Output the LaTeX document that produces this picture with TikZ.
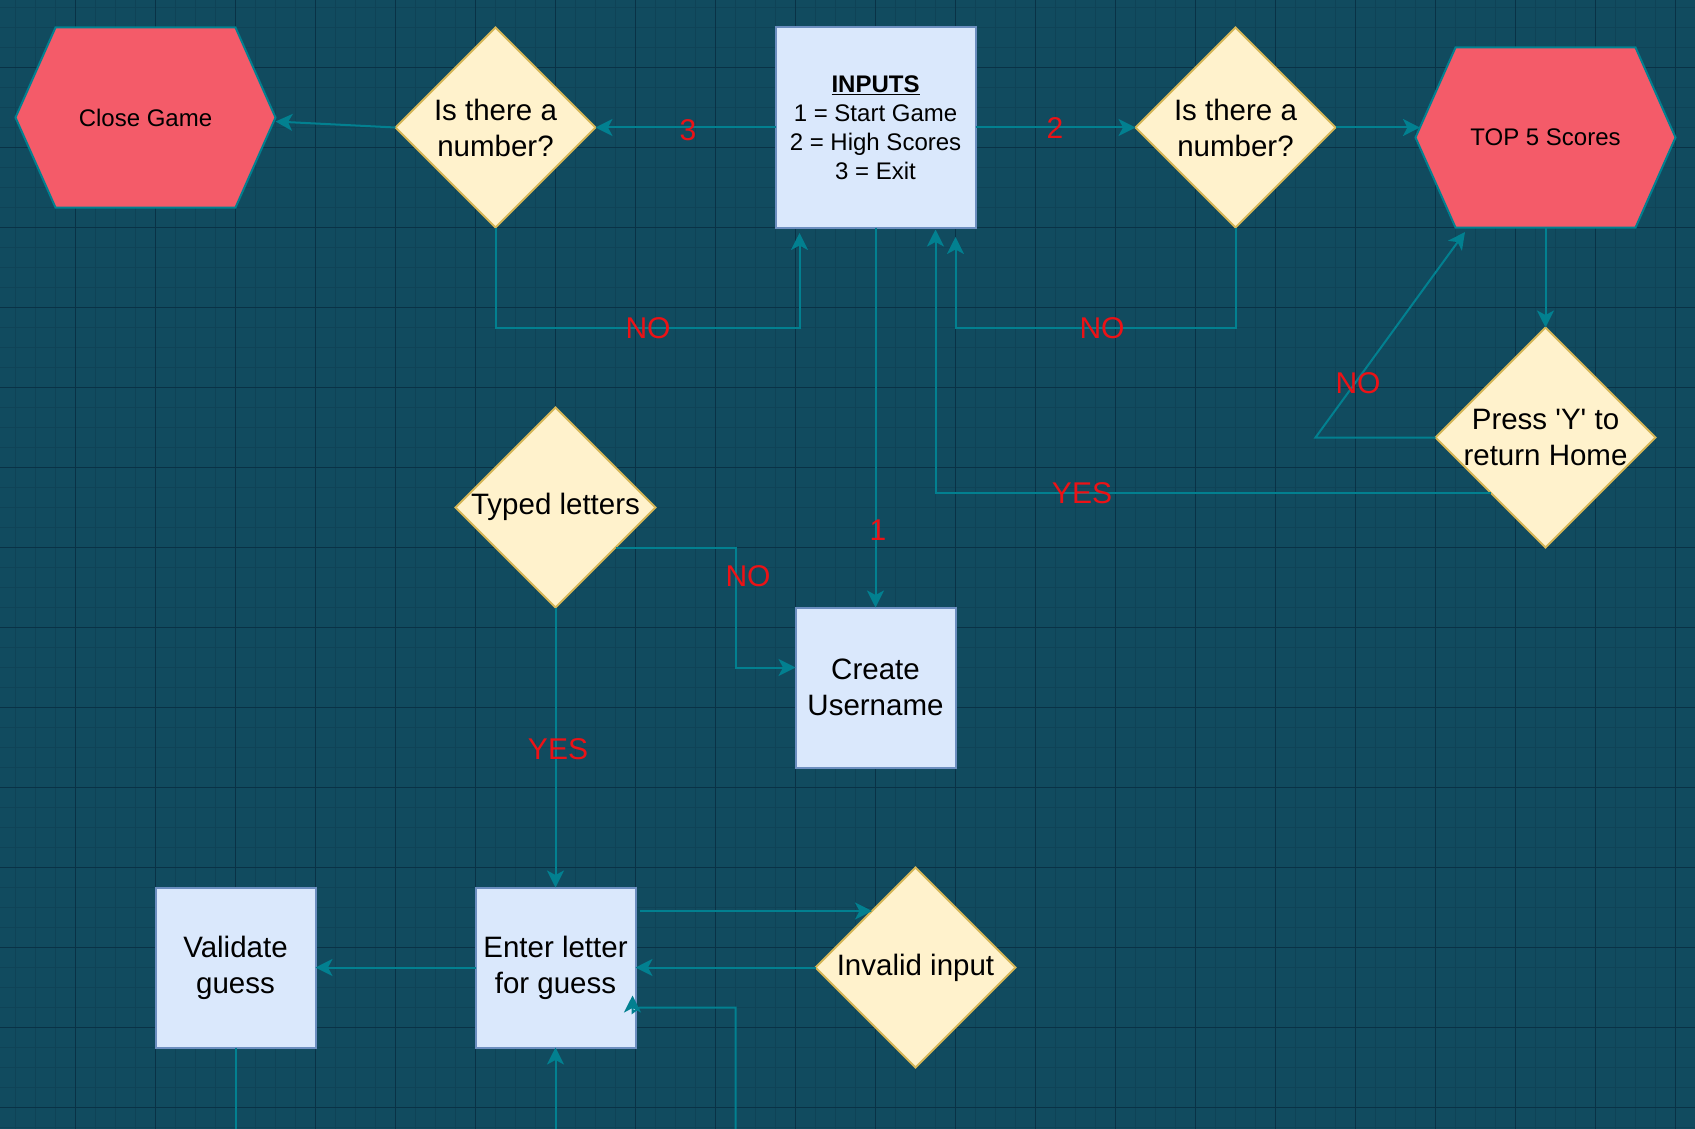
\documentclass[tikz,border=0pt]{standalone}
\usepackage{fontspec}
\setmainfont{Liberation Sans}
\newfontfamily\qfont{Liberation Sans}
\usetikzlibrary{shapes.geometric,arrows.meta,calc}
\definecolor{bgc}{HTML}{114B5F}
\definecolor{gridmin}{RGB}{15,67,87}
\definecolor{gridmaj}{RGB}{9,50,70}
\definecolor{edgec}{HTML}{028090}
\definecolor{hexfill}{HTML}{F45B69}
\definecolor{dfill}{HTML}{FFF2CC}
\definecolor{dline}{HTML}{D6B656}
\definecolor{rfill}{HTML}{DAE8FC}
\definecolor{rline}{HTML}{6C8EBF}
\definecolor{lblc}{RGB}{236,18,22}
\pgfdeclarelayer{back}
\pgfdeclarelayer{shapes}
\pgfsetlayers{back,shapes,main}
\newcommand\myul[1]{\setbox0\hbox{\textbf{#1}}\rlap{\rule[-3.2pt]{\wd0}{1.6pt}}\box0}
\newcommand\sq{{\qfont'}}
\tikzset{
 hexbox/.style={rectangle, minimum width=260pt, minimum height=180pt, inner sep=0pt, outer sep=0pt, font=\fontsize{24}{29}\selectfont, text=black},
 hexdraw/.style={fill=hexfill, draw=edgec, line width=2pt, line join=miter},
 dec/.style={diamond, aspect=1, fill=dfill, draw=dline, line width=2pt, inner sep=0pt, outer sep=0pt, minimum width=200pt, minimum height=200pt},
 dtext/.style={align=center, font=\fontsize{29.5}{36}\selectfont, text=black, inner sep=0pt},
 proc/.style={rectangle, fill=rfill, draw=rline, line width=2pt, minimum width=160pt, minimum height=160pt, inner sep=0pt, outer sep=0pt, align=center, font=\fontsize{29.5}{36}\selectfont, text=black},
 arr/.style={draw=edgec, line width=2pt, -{Stealth[length=17pt,width=17pt,inset=4.5pt]}},
 plainedge/.style={draw=edgec, line width=2pt},
 lbl/.style={text=lblc, font=\fontsize{30}{36}\selectfont, inner sep=0pt},
}
\begin{document}
\begin{tikzpicture}[x=1pt,y=-1pt]
\useasboundingbox (0,0) rectangle (1695,1129);
\begin{pgfonlayer}{back}
\fill[bgc] (0,0) rectangle (1695,1129);
\foreach \x in {15.5,35.5,...,1695} \draw[gridmin, line width=1pt] (\x,0) -- (\x,1129);
\foreach \y in {7.5,27.5,...,1129} \draw[gridmin, line width=1pt] (0,\y) -- (1695,\y);
\foreach \x in {75.5,155.5,...,1695} \draw[gridmaj, line width=1.3pt] (\x,0) -- (\x,1129);
\foreach \y in {67.5,147.5,...,1129} \draw[gridmaj, line width=1.3pt] (0,\y) -- (1695,\y);
\end{pgfonlayer}

% hexagons
\node[hexbox] (close) at (145.5,117.5) {Close Game};
\node[hexbox] (top5) at (1545.5,137.5) {TOP 5 Scores};
\begin{pgfonlayer}{shapes}
\draw[hexdraw] ([xshift=40pt]close.north west) -- ([xshift=-40pt]close.north east) -- (close.east) -- ([xshift=-40pt]close.south east) -- ([xshift=40pt]close.south west) -- (close.west) -- cycle;
\draw[hexdraw] ([xshift=40pt]top5.north west) -- ([xshift=-40pt]top5.north east) -- (top5.east) -- ([xshift=-40pt]top5.south east) -- ([xshift=40pt]top5.south west) -- (top5.west) -- cycle;
\end{pgfonlayer}

% decisions
\node[dec] (q1) at (495.5,127.5) {};
\node[dtext] (q1t) at (q1) {Is there a\\number?};
\node[dec] (q2) at (1235.5,127.5) {};
\node[dtext] (q2t) at (q2) {Is there a\\number?};
\node[dec, minimum width=220pt, minimum height=220pt] (press) at (1545.5,437.5) {};
\node[dtext] (presst) at (press) {Press \sq Y\sq\ to\\return Home};
\node[dec] (typed) at (555.5,507.5) {};
\node[dtext] (typedt) at ([yshift=1pt]typed.center) {Typed letters};
\node[dec] (invalid) at (915.5,967.5) {};
\node[dtext] (invalidt) at (invalid) {Invalid input};

% processes
\node[proc, minimum width=200pt, minimum height=200pt, font=\fontsize{24}{29}\selectfont] (inputs) at (875.5,127.5) {\myul{INPUTS}\\1 = Start Game\\2 = High Scores\\3 = Exit};
\node[proc] (create) at (875.5,687.5) {Create\\Username};
\node[proc] (validate) at (235.5,967.5) {Validate\\guess};
\node[proc] (enter) at (555.5,967.5) {Enter letter\\for guess};

% free ends
\coordinate (vb) at (235.5,1129);
\coordinate (eb) at (555.5,1129);
\coordinate (ib) at (735.5,1129);

% connectors
\draw[arr] (q1.west) -- ([yshift=-4pt]close.east);
\draw[arr] (inputs.west) -- (q1.east);
\draw[arr] (inputs.east) -- (q2.west);
\draw[arr] (q2.east) -- ([xshift=4.4pt,yshift=10pt]top5.west);
\draw[arr] (q1.south) -- ++(0,100) -| ([xshift=24pt,yshift=-5.5pt]inputs.south west);
\draw[arr] (q2.south) -- ++(0,100) -| ([xshift=-20pt,yshift=-9.5pt]inputs.south east);
\draw[arr] (inputs.south) -- (create.north);
\draw[arr] (top5.south) -- (press.north);
\draw[arr] (press.west) -- ++(-120,0) -- ([xshift=49.5pt,yshift=-4.5pt]top5.south west);
\draw[arr] (press.south west) -| ([xshift=60pt,yshift=-2pt]inputs.south);
\draw[arr] ([xshift=-40pt,yshift=-40pt]typed.east) -- ++(120.5,0) |- ([yshift=20pt]create.west);
\draw[arr] (typed.south) -- (enter.north);
\draw[arr] ([xshift=4pt,yshift=56.5pt]enter.east) -- ([xshift=56.5pt,yshift=56.5pt]invalid.west);
\draw[arr] (invalid.west) -- (enter.east);
\draw[arr] (enter.west) -- (validate.east);
\draw[plainedge] (validate.south) -- (vb);
\draw[arr] (eb) -- (enter.south);
\draw[arr] (ib) |- ([xshift=4pt,yshift=-40pt]enter.east) -- ([xshift=-3pt,yshift=-45pt]enter.east) -- ([xshift=-3pt,yshift=-28pt]enter.east);

% labels
\node[lbl] (l3) at (688,130) {3};
\node[lbl] (l2) at (1055,128) {2};
\node[lbl] (lno1) at (648,328) {NO};
\node[lbl] (lno2) at (1102,328) {NO};
\node[lbl] (l1) at (878,530) {1};
\node[lbl] (lno3) at (1358,383) {NO};
\node[lbl] (lyes1) at (1082,493) {YES};
\node[lbl] (lno4) at (748,576) {NO};
\node[lbl] (lyes2) at (558,749) {YES};
\end{tikzpicture}
\end{document}
